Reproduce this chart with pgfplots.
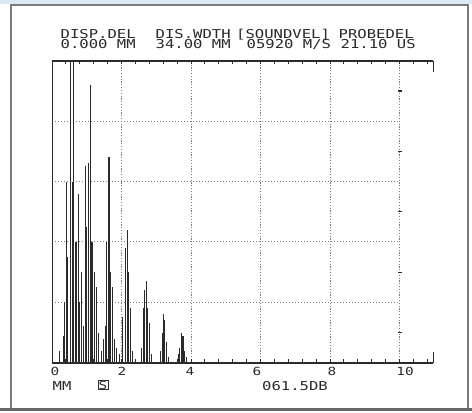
\documentclass[border=0pt]{standalone}
\usepackage{pgfplots}
\pgfplotsset{compat=1.18}
\usepackage{graphicx}
\usepackage{fontspec}
\newfontfamily\dm{DejaVu Sans Mono}
\definecolor{ink}{HTML}{2A2A2A}
\definecolor{gridc}{HTML}{7C7C7C}
\definecolor{band}{HTML}{DCE8F4}
\definecolor{framec}{HTML}{7A7A7A}
\newcommand{\dmt}[1]{\scalebox{1.27}[1]{\dm\fontsize{12.3}{14}\selectfont #1}}
\newcommand{\dms}[1]{\scalebox{1.29}[1]{\dm\fontsize{11.2}{13}\selectfont #1}}
\begin{document}
\begin{tikzpicture}[x=1bp,y=1bp]
\path[use as bounding box, fill=white] (0,0) rectangle (472,412);
\fill[band] (0,407.5) rectangle (472,412);
\draw[framec, line width=1.2bp] (11,3) -- (11,407) -- (468,407) -- (468,3);
\draw[framec!85!black, line width=3bp] (0,2.8) -- (472,2.8);
% grid
\foreach \k in {2,4,6,8,10}
  \draw[gridc, line width=0.9bp, dash pattern=on 1.2bp off 1.6bp] ({52+34.75*\k},49.3) -- ({52+34.75*\k},351.3);
\foreach \v in {20,40,60,80}
  \draw[gridc, line width=0.9bp, dash pattern=on 1.2bp off 1.8bp] (52,{49.3+3.02*\v}) -- (399.5,{49.3+3.02*\v});
\foreach \v in {10,30,50,70,90}
  \draw[ink, line width=1.2bp] (398,{49.3+3.02*\v}) -- (401.5,{49.3+3.02*\v});
% axis frame lines
\draw[ink, line width=1.8bp] (52,49.3) -- (433,49.3);
\draw[ink, line width=1.8bp] (52,351.3) -- (433,351.3);
\draw[ink, line width=1bp] (52,49.3) -- (52,351.3);
\draw[ink, line width=1bp] (433,351.3) -- (433,340.5);
\draw[ink, line width=1bp] (433,49.3) -- (433,60.5);
\foreach \i in {0,...,27}{
  \draw[ink, line width=0.9bp] ({52+13.9*\i},49.3) -- ({52+13.9*\i},53);
  \draw[ink, line width=0.9bp] ({52+13.9*\i},351.3) -- ({52+13.9*\i},347.6);
}
\begin{axis}[at={(52bp,49.3bp)}, anchor=south west, scale only axis,
  width=381bp, height=302bp, xmin=0, xmax=10.964, ymin=0, ymax=100,
  hide axis, clip=true]
\addplot[ycomb, ink, line width=1.1bp, no marks] coordinates {
 (0.22,4) (0.32,9) (0.37,20) (0.41,60) (0.45,35) (0.54,115) (0.58,60)
 (0.63,115) (0.69,40) (0.75,56) (0.80,20) (0.84,30)
 (0.90,12) (0.96,65) (1.00,45) (1.04,66) (1.10,92) (1.15,40) (1.22,30)
 (1.28,25) (1.33,10)
 (1.42,4) (1.47,8) (1.53,12) (1.58,40) (1.64,68) (1.69,30) (1.74,25)
 (1.80,8) (1.85,5) (1.95,3)
 (2.04,15) (2.11,38) (2.16,44) (2.21,30) (2.26,18) (2.32,4)
 (2.57,5) (2.62,18) (2.67,24) (2.71,27) (2.76,18) (2.80,13) (2.86,3)
 (3.12,4) (3.17,10) (3.21,16) (3.25,14) (3.29,7) (3.34,2)
 (3.63,3) (3.68,5) (3.73,10) (3.77,9) (3.81,4) (3.86,2)
};
\end{axis}
% header text
\begin{scope}[every node/.style={inner sep=0, anchor=base west, text=ink, text height=8.6bp, text depth=0.3bp}]
\node at (60.5,373.7) {\dmt{DISP.DEL}};
\node at (155.5,373.7) {\dmt{DIS.WDTH}};
\node at (236,373.7) {\dmt{[SOUNDVEL]}};
\node at (338.5,373.7) {\dmt{PROBEDEL}};
\node at (60.5,363.7) {\dmt{0.000 MM}};
\node at (155.5,363.7) {\dmt{34.00 MM}};
\node at (246.5,363.7) {\dmt{05920 M/S}};
\node at (340.5,363.7) {\dmt{21.10 US}};
\node at (52.5,22) {\dmt{MM}};
\node at (262,22) {\dmt{061.5DB}};
\end{scope}
\node[draw=ink, line width=0.7bp, inner sep=0.6bp, anchor=base, text=ink] at (103,23) {\dms{S}};
% tick labels
\begin{scope}[every node/.style={inner sep=0, anchor=base, text=ink}]
\node at (55,37) {\dms{0}};
\node at (122,37) {\dms{2}};
\node at (190,37) {\dms{4}};
\node at (257,37) {\dms{6}};
\node at (332,37) {\dms{8}};
\node at (405,37) {\dms{10}};
\end{scope}
\end{tikzpicture}
\end{document}
